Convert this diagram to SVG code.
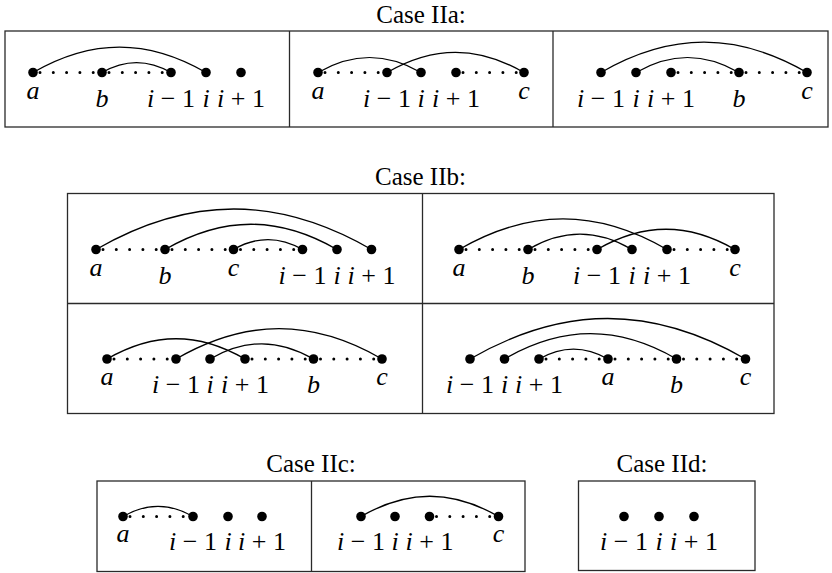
<svg xmlns="http://www.w3.org/2000/svg" width="832" height="573" viewBox="0 0 832 573">
  <style>
    .frame { fill: none; stroke: #2a2a2a; stroke-width: 1.3; }
    .arc { fill: none; stroke: #000; stroke-width: 1.3; }
    .dots { fill: none; stroke: #000; stroke-width: 3; stroke-linecap: round; stroke-dasharray: 0 13.3; stroke-dashoffset: 6.3; }
    .v { fill: #000; }
    .title { font-family: "Liberation Serif", "Times New Roman", serif; font-size: 25px; fill: #000; text-anchor: middle; }
    .lb { font-family: "Liberation Serif", "Times New Roman", serif; font-size: 26px; fill: #000; text-anchor: middle; }
    .it { font-style: italic; }
  </style>
  <rect width="832" height="573" fill="#fff"/>

  <!-- titles -->
  <text class="title" x="421" y="22.5">Case IIa:</text>
  <text class="title" x="420.5" y="185">Case IIb:</text>
  <text class="title" x="311" y="472">Case IIc:</text>
  <text class="title" x="662" y="472">Case IId:</text>

  <!-- frames -->
  <g id="frames">
    <rect class="frame" x="5" y="31" width="823" height="96"/>
    <line class="frame" x1="289.5" y1="31" x2="289.5" y2="127"/>
    <line class="frame" x1="553" y1="31" x2="553" y2="127"/>
    <rect class="frame" x="67.5" y="193.5" width="706.5" height="220"/>
    <line class="frame" x1="422.5" y1="193.5" x2="422.5" y2="413.5"/>
    <line class="frame" x1="67.5" y1="303.5" x2="774" y2="303.5"/>
    <rect class="frame" x="97" y="481" width="428" height="90.5"/>
    <line class="frame" x1="311.5" y1="481" x2="311.5" y2="571.5"/>
    <rect class="frame" x="578.5" y="481" width="176.5" height="89.5"/>
  </g>

  <!-- arcs and dotted runs -->
  <g id="connectors">
    <!-- IIa, panel 1 -->
    <path class="arc" d="M33 72.5 C91.6 38.6 147.4 38.6 206 72.5"/>
    <path class="arc" d="M102 72.5 C125.4 59 147.6 59 171 72.5"/>
    <line class="dots" x1="33" y1="72.5" x2="102" y2="72.5"/>
    <line class="dots" x1="102" y1="72.5" x2="171" y2="72.5"/>
    <!-- IIa, panel 2 -->
    <path class="arc" d="M318 72.5 C352.9 52.3 386.1 52.3 421 72.5"/>
    <path class="arc" d="M387 72.5 C433.4 45.6 477.6 45.6 524 72.5"/>
    <line class="dots" x1="318" y1="72.5" x2="387" y2="72.5"/>
    <line class="dots" x1="456" y1="72.5" x2="524" y2="72.5"/>
    <!-- IIa, panel 3 -->
    <path class="arc" d="M601 72.5 C670.8 32.1 737.2 32.1 807 72.5"/>
    <path class="arc" d="M636 72.5 C670.9 52.3 704.1 52.3 739 72.5"/>
    <line class="dots" x1="671" y1="72.5" x2="739" y2="72.5"/>
    <line class="dots" x1="739" y1="72.5" x2="807" y2="72.5"/>
    <!-- IIb, panel 1 -->
    <path class="arc" d="M96 249.5 C189.4 195.5 278.1 195.5 371.5 249.5"/>
    <path class="arc" d="M165 249.5 C223.3 215.8 278.7 215.8 337 249.5"/>
    <path class="arc" d="M233.5 249.5 C256.9 236 279.1 236 302.5 249.5"/>
    <line class="dots" x1="96" y1="249.5" x2="165" y2="249.5"/>
    <line class="dots" x1="165" y1="249.5" x2="233.5" y2="249.5"/>
    <line class="dots" x1="233.5" y1="249.5" x2="302.5" y2="249.5"/>
    <!-- IIb, panel 2 -->
    <path class="arc" d="M459 249.5 C529.5 208.7 596.5 208.7 667 249.5"/>
    <path class="arc" d="M528 249.5 C563.3 229.1 596.7 229.1 632 249.5"/>
    <path class="arc" d="M597 249.5 C643.8 222.5 688.2 222.5 735 249.5"/>
    <line class="dots" x1="459" y1="249.5" x2="528" y2="249.5"/>
    <line class="dots" x1="528" y1="249.5" x2="597" y2="249.5"/>
    <line class="dots" x1="667" y1="249.5" x2="735" y2="249.5"/>
    <!-- IIb, panel 3 -->
    <path class="arc" d="M107 359 C153.8 332 198.2 332 245 359"/>
    <path class="arc" d="M176 359 C245.8 318.6 312.2 318.6 382 359"/>
    <path class="arc" d="M210 359 C245.1 338.7 278.4 338.7 313.5 359"/>
    <line class="dots" x1="107" y1="359" x2="176" y2="359"/>
    <line class="dots" x1="245" y1="359" x2="313.5" y2="359"/>
    <line class="dots" x1="313.5" y1="359" x2="382" y2="359"/>
    <!-- IIb, panel 4 -->
    <path class="arc" d="M470 359 C563.4 305 652.1 305 745.5 359"/>
    <path class="arc" d="M504.5 359 C562.8 325.3 618.2 325.3 676.5 359"/>
    <path class="arc" d="M539 359 C562.4 345.5 584.6 345.5 608 359"/>
    <line class="dots" x1="539" y1="359" x2="608" y2="359"/>
    <line class="dots" x1="608" y1="359" x2="676.5" y2="359"/>
    <line class="dots" x1="676.5" y1="359" x2="745.5" y2="359"/>
    <!-- IIc -->
    <path class="arc" d="M123 516.5 C146.7 502.8 169.3 502.8 193 516.5"/>
    <line class="dots" x1="123" y1="516.5" x2="193" y2="516.5"/>
    <path class="arc" d="M361 516.5 C407.6 489.5 451.9 489.5 498.5 516.5"/>
    <line class="dots" x1="429.5" y1="516.5" x2="498.5" y2="516.5"/>
  </g>

  <!-- IIa, panel 1 -->
  <g id="IIa1-a"><circle class="v" cx="33" cy="72.5" r="4.8"/><text class="lb it" x="33" y="98.5">a</text></g>
  <g id="IIa1-b"><circle class="v" cx="102" cy="72.5" r="4.8"/><text class="lb it" x="102" y="106.5">b</text></g>
  <g id="IIa1-im1"><circle class="v" cx="171" cy="72.5" r="4.8"/><text class="lb" x="171" y="106.5"><tspan class="it">i</tspan> − 1</text></g>
  <g id="IIa1-i"><circle class="v" cx="206" cy="72.5" r="4.8"/><text class="lb it" x="206" y="106.5">i</text></g>
  <g id="IIa1-ip1"><circle class="v" cx="241" cy="72.5" r="4.8"/><text class="lb" x="241" y="106.5"><tspan class="it">i</tspan> + 1</text></g>

  <!-- IIa, panel 2 -->
  <g id="IIa2-a"><circle class="v" cx="318" cy="72.5" r="4.8"/><text class="lb it" x="318" y="98.5">a</text></g>
  <g id="IIa2-im1"><circle class="v" cx="387" cy="72.5" r="4.8"/><text class="lb" x="387" y="106.5"><tspan class="it">i</tspan> − 1</text></g>
  <g id="IIa2-i"><circle class="v" cx="421" cy="72.5" r="4.8"/><text class="lb it" x="421" y="106.5">i</text></g>
  <g id="IIa2-ip1"><circle class="v" cx="456" cy="72.5" r="4.8"/><text class="lb" x="456" y="106.5"><tspan class="it">i</tspan> + 1</text></g>
  <g id="IIa2-c"><circle class="v" cx="524" cy="72.5" r="4.8"/><text class="lb it" x="524" y="98.5">c</text></g>

  <!-- IIa, panel 3 -->
  <g id="IIa3-im1"><circle class="v" cx="601" cy="72.5" r="4.8"/><text class="lb" x="601" y="106.5"><tspan class="it">i</tspan> − 1</text></g>
  <g id="IIa3-i"><circle class="v" cx="636" cy="72.5" r="4.8"/><text class="lb it" x="636" y="106.5">i</text></g>
  <g id="IIa3-ip1"><circle class="v" cx="671" cy="72.5" r="4.8"/><text class="lb" x="671" y="106.5"><tspan class="it">i</tspan> + 1</text></g>
  <g id="IIa3-b"><circle class="v" cx="739" cy="72.5" r="4.8"/><text class="lb it" x="739" y="106.5">b</text></g>
  <g id="IIa3-c"><circle class="v" cx="807" cy="72.5" r="4.8"/><text class="lb it" x="807" y="98.5">c</text></g>

  <!-- IIb, panel 1 -->
  <g id="IIb1-a"><circle class="v" cx="96" cy="249.5" r="4.8"/><text class="lb it" x="96" y="275.5">a</text></g>
  <g id="IIb1-b"><circle class="v" cx="165" cy="249.5" r="4.8"/><text class="lb it" x="165" y="283.5">b</text></g>
  <g id="IIb1-c"><circle class="v" cx="233.5" cy="249.5" r="4.8"/><text class="lb it" x="233.5" y="275.5">c</text></g>
  <g id="IIb1-im1"><circle class="v" cx="302.5" cy="249.5" r="4.8"/><text class="lb" x="302.5" y="283.5"><tspan class="it">i</tspan> − 1</text></g>
  <g id="IIb1-i"><circle class="v" cx="337" cy="249.5" r="4.8"/><text class="lb it" x="337" y="283.5">i</text></g>
  <g id="IIb1-ip1"><circle class="v" cx="371.5" cy="249.5" r="4.8"/><text class="lb" x="371.5" y="283.5"><tspan class="it">i</tspan> + 1</text></g>

  <!-- IIb, panel 2 -->
  <g id="IIb2-a"><circle class="v" cx="459" cy="249.5" r="4.8"/><text class="lb it" x="459" y="275.5">a</text></g>
  <g id="IIb2-b"><circle class="v" cx="528" cy="249.5" r="4.8"/><text class="lb it" x="528" y="283.5">b</text></g>
  <g id="IIb2-im1"><circle class="v" cx="597" cy="249.5" r="4.8"/><text class="lb" x="597" y="283.5"><tspan class="it">i</tspan> − 1</text></g>
  <g id="IIb2-i"><circle class="v" cx="632" cy="249.5" r="4.8"/><text class="lb it" x="632" y="283.5">i</text></g>
  <g id="IIb2-ip1"><circle class="v" cx="667" cy="249.5" r="4.8"/><text class="lb" x="667" y="283.5"><tspan class="it">i</tspan> + 1</text></g>
  <g id="IIb2-c"><circle class="v" cx="735" cy="249.5" r="4.8"/><text class="lb it" x="735" y="275.5">c</text></g>

  <!-- IIb, panel 3 -->
  <g id="IIb3-a"><circle class="v" cx="107" cy="359" r="4.8"/><text class="lb it" x="107" y="385">a</text></g>
  <g id="IIb3-im1"><circle class="v" cx="176" cy="359" r="4.8"/><text class="lb" x="176" y="393"><tspan class="it">i</tspan> − 1</text></g>
  <g id="IIb3-i"><circle class="v" cx="210" cy="359" r="4.8"/><text class="lb it" x="210" y="393">i</text></g>
  <g id="IIb3-ip1"><circle class="v" cx="245" cy="359" r="4.8"/><text class="lb" x="245" y="393"><tspan class="it">i</tspan> + 1</text></g>
  <g id="IIb3-b"><circle class="v" cx="313.5" cy="359" r="4.8"/><text class="lb it" x="313.5" y="393">b</text></g>
  <g id="IIb3-c"><circle class="v" cx="382" cy="359" r="4.8"/><text class="lb it" x="382" y="385">c</text></g>

  <!-- IIb, panel 4 -->
  <g id="IIb4-im1"><circle class="v" cx="470" cy="359" r="4.8"/><text class="lb" x="470" y="393"><tspan class="it">i</tspan> − 1</text></g>
  <g id="IIb4-i"><circle class="v" cx="504.5" cy="359" r="4.8"/><text class="lb it" x="504.5" y="393">i</text></g>
  <g id="IIb4-ip1"><circle class="v" cx="539" cy="359" r="4.8"/><text class="lb" x="539" y="393"><tspan class="it">i</tspan> + 1</text></g>
  <g id="IIb4-a"><circle class="v" cx="608" cy="359" r="4.8"/><text class="lb it" x="608" y="385">a</text></g>
  <g id="IIb4-b"><circle class="v" cx="676.5" cy="359" r="4.8"/><text class="lb it" x="676.5" y="393">b</text></g>
  <g id="IIb4-c"><circle class="v" cx="745.5" cy="359" r="4.8"/><text class="lb it" x="745.5" y="385">c</text></g>

  <!-- IIc, panel 1 -->
  <g id="IIc1-a"><circle class="v" cx="123" cy="516.5" r="4.8"/><text class="lb it" x="123" y="542">a</text></g>
  <g id="IIc1-im1"><circle class="v" cx="193" cy="516.5" r="4.8"/><text class="lb" x="193" y="550"><tspan class="it">i</tspan> − 1</text></g>
  <g id="IIc1-i"><circle class="v" cx="228" cy="516.5" r="4.8"/><text class="lb it" x="228" y="550">i</text></g>
  <g id="IIc1-ip1"><circle class="v" cx="262" cy="516.5" r="4.8"/><text class="lb" x="262" y="550"><tspan class="it">i</tspan> + 1</text></g>

  <!-- IIc, panel 2 -->
  <g id="IIc2-im1"><circle class="v" cx="361" cy="516.5" r="4.8"/><text class="lb" x="361" y="550"><tspan class="it">i</tspan> − 1</text></g>
  <g id="IIc2-i"><circle class="v" cx="395" cy="516.5" r="4.8"/><text class="lb it" x="395" y="550">i</text></g>
  <g id="IIc2-ip1"><circle class="v" cx="429.5" cy="516.5" r="4.8"/><text class="lb" x="429.5" y="550"><tspan class="it">i</tspan> + 1</text></g>
  <g id="IIc2-c"><circle class="v" cx="498.5" cy="516.5" r="4.8"/><text class="lb it" x="498.5" y="542">c</text></g>

  <!-- IId -->
  <g id="IId-im1"><circle class="v" cx="624" cy="516.5" r="4.8"/><text class="lb" x="624" y="550"><tspan class="it">i</tspan> − 1</text></g>
  <g id="IId-i"><circle class="v" cx="659" cy="516.5" r="4.8"/><text class="lb it" x="659" y="550">i</text></g>
  <g id="IId-ip1"><circle class="v" cx="694" cy="516.5" r="4.8"/><text class="lb" x="694" y="550"><tspan class="it">i</tspan> + 1</text></g>
</svg>
